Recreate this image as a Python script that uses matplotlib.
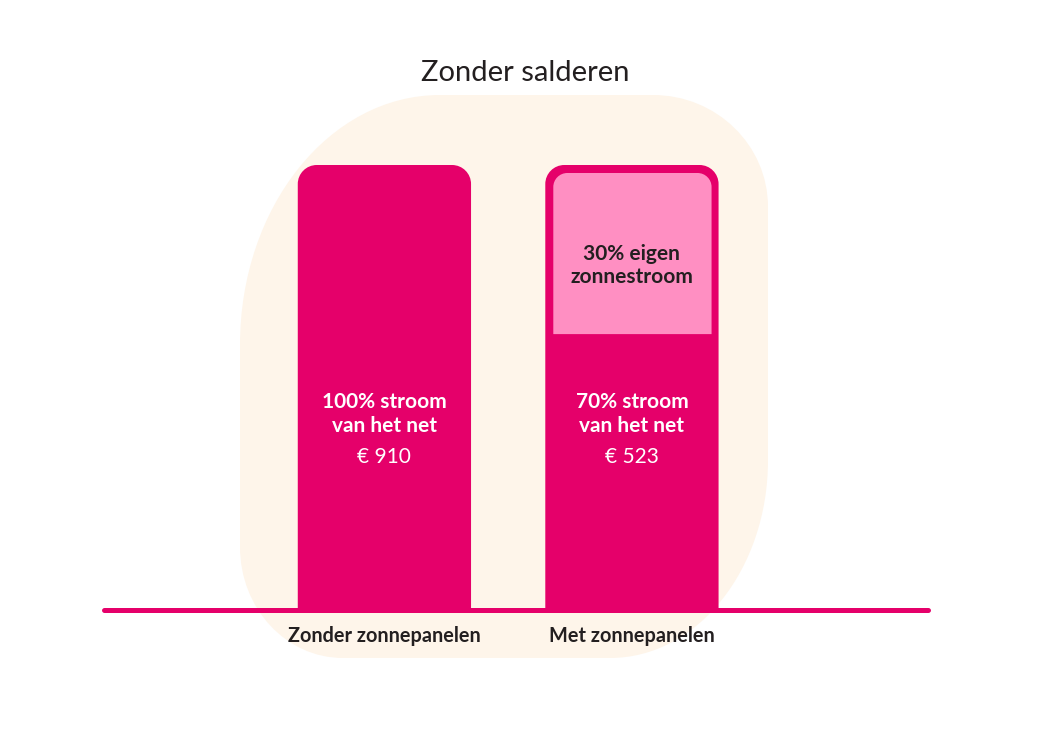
import numpy as np
import matplotlib
matplotlib.use("Agg")
import matplotlib.pyplot as plt
from matplotlib.path import Path
from matplotlib.patches import PathPatch
from matplotlib.transforms import Affine2D

# data
categories = ["Zonder zonnepanelen", "Met zonnepanelen"]
grid_share = [100, 70]      # % stroom van het net
own_share = [0, 30]         # % eigen zonnestroom
costs = [910, 523]          # euro
bar_height = [100, 100]     # both bars drawn full height
grid_drawn = [100, 62]      # where the pink part starts, as drawn in the picture

MAGENTA = "#E5006A"
PINK = "#FF8FC2"
CREAM = "#FEF5EA"
DARK = "#231F20"

plt.rcParams["font.family"] = ["Lato", "DejaVu Sans"]

fig = plt.figure(figsize=(10.5, 7.5), dpi=100)
ax = fig.add_axes([0, 0, 1, 1])
ax.axis("off")
ax.set_xlim(-1.553, 2.689)
ax.set_ylim(-31.46, 137.08)


def rounded_path(xl, xr, yb, yt, rx, ry):
    k = 0.5523
    verts = [
        (xl, yb), (xl, yt - ry),
        (xl, yt - ry + k * ry), (xl + rx - k * rx, yt), (xl + rx, yt),
        (xr - rx, yt),
        (xr - rx + k * rx, yt), (xr, yt - ry + k * ry), (xr, yt - ry),
        (xr, yb), (xl, yb),
    ]
    codes = [Path.MOVETO, Path.LINETO,
             Path.CURVE4, Path.CURVE4, Path.CURVE4,
             Path.LINETO,
             Path.CURVE4, Path.CURVE4, Path.CURVE4,
             Path.LINETO, Path.CLOSEPOLY]
    return Path(verts, codes)


def px_per_unit():
    p0 = ax.transData.transform((0, 0))
    p1 = ax.transData.transform((1, 1))
    return p1[0] - p0[0], p1[1] - p0[1]


# background blob (decoration, drawn in pixel space)
def blob_path(left, right, top, bottom, tl, tr, br, bl):
    k = 0.5523
    v, c = [], []
    v.append((left, top + tl[1])); c.append(Path.MOVETO)
    v += [(left, top + tl[1] - k * tl[1]), (left + tl[0] - k * tl[0], top), (left + tl[0], top)]
    c += [Path.CURVE4] * 3
    v.append((right - tr[0], top)); c.append(Path.LINETO)
    v += [(right - tr[0] + k * tr[0], top), (right, top + tr[1] - k * tr[1]), (right, top + tr[1])]
    c += [Path.CURVE4] * 3
    v.append((right, bottom - br[1])); c.append(Path.LINETO)
    v += [(right, bottom - br[1] + k * br[1]), (right - br[0] + k * br[0], bottom), (right - br[0], bottom)]
    c += [Path.CURVE4] * 3
    v.append((left + bl[0], bottom)); c.append(Path.LINETO)
    v += [(left + bl[0] - k * bl[0], bottom), (left, bottom - bl[1] + k * bl[1]), (left, bottom - bl[1])]
    c += [Path.CURVE4] * 3
    v.append((left, top + tl[1])); c.append(Path.CLOSEPOLY)
    return Path(v, c)


px_tr = Affine2D().scale(1 / 1050, -1 / 750).translate(0, 1) + fig.transFigure
blob = blob_path(240, 768, 95, 658, (200, 250), (115, 112), (158, 198), (103, 111))
ax.add_patch(PathPatch(blob, facecolor=CREAM, edgecolor="none", transform=px_tr, zorder=0))

sx, sy = px_per_unit()
width = 0.7
x = np.arange(len(categories))

for i in x:
    xl, xr = i - width / 2, i + width / 2
    ax.add_patch(PathPatch(rounded_path(xl, xr, 0, bar_height[i], 19 / sx, 19 / sy),
                           facecolor=MAGENTA, edgecolor="none", zorder=2))
    if own_share[i] > 0:
        ax.add_patch(PathPatch(rounded_path(xl + 8 / sx, xr - 7 / sx, grid_drawn[i],
                                            bar_height[i] - 8 / sy, 14 / sx, 14 / sy),
                               facecolor=PINK, edgecolor="none", zorder=3))
        ax.text(i, grid_drawn[i] + 16.7, f"{own_share[i]}% eigen", ha="center", va="baseline",
                fontsize=15, fontweight="bold", color=DARK, zorder=4)
        ax.text(i, grid_drawn[i] + 11.5, "zonnestroom", ha="center", va="baseline",
                fontsize=15, fontweight="bold", color=DARK, zorder=4)

    ax.text(i, 45.4, f"{grid_share[i]}% stroom", ha="center", va="baseline",
            fontsize=15, fontweight="bold", color="white", zorder=4)
    ax.text(i, 40.0, "van het net", ha="center", va="baseline",
            fontsize=15, fontweight="bold", color="white", zorder=4)
    ax.text(i, 33.0, f"€ {costs[i]}", ha="center", va="baseline",
            fontsize=15, color="white", zorder=4)
    ax.text(i, -7.2, categories[i], ha="center", va="baseline",
            fontsize=14.3, fontweight="bold", color=DARK, zorder=4)

# baseline
ax.plot([-1.132, 2.198], [0, 0], color=MAGENTA, lw=3.6, solid_capstyle="round", zorder=5)

fig.text(0.5, 1 - 81 / 750, "Zonder salderen", ha="center", va="baseline",
         fontsize=21, color=DARK)

fig.savefig("out.png", dpi=100)
